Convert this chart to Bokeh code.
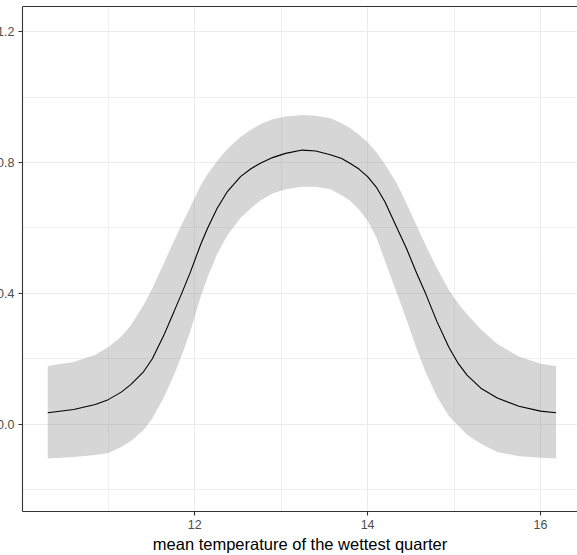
from bokeh.plotting import figure
from bokeh.models import FixedTicker, LinearAxis, PrintfTickFormatter, Range1d
from bokeh.embed import file_html
from bokeh.resources import INLINE

# ---- data ----
temp = [10.30, 10.60, 10.85, 11.00, 11.15, 11.26, 11.41, 11.51, 11.64, 11.76,
        11.85, 11.95, 12.07, 12.15, 12.26, 12.38, 12.53, 12.65, 12.76, 12.90,
        13.05, 13.245, 13.40, 13.57, 13.70, 13.80, 13.90, 14.00, 14.10, 14.20,
        14.34, 14.45, 14.57, 14.67, 14.80, 14.94, 15.05, 15.15, 15.31, 15.50,
        15.75, 16.00, 16.18]
fit = [0.035, 0.045, 0.060, 0.075, 0.098, 0.121, 0.161, 0.200, 0.270, 0.344,
       0.400, 0.465, 0.550, 0.600, 0.660, 0.712, 0.757, 0.781, 0.798, 0.815,
       0.828, 0.838, 0.835, 0.824, 0.812, 0.797, 0.780, 0.757, 0.725, 0.680,
       0.600, 0.537, 0.460, 0.400, 0.315, 0.235, 0.185, 0.150, 0.110, 0.080,
       0.055, 0.040, 0.035]
upper = [0.178, 0.190, 0.212, 0.235, 0.268, 0.302, 0.365, 0.415, 0.490, 0.560,
         0.610, 0.665, 0.730, 0.765, 0.805, 0.842, 0.878, 0.900, 0.917, 0.932,
         0.941, 0.945, 0.943, 0.935, 0.920, 0.905, 0.885, 0.862, 0.832, 0.795,
         0.735, 0.675, 0.605, 0.548, 0.478, 0.410, 0.368, 0.336, 0.290, 0.245,
         0.207, 0.185, 0.178]
lower = [-0.105, -0.100, -0.094, -0.088, -0.070, -0.052, -0.018, 0.018, 0.080, 0.150,
         0.210, 0.285, 0.390, 0.450, 0.520, 0.578, 0.630, 0.660, 0.684, 0.705,
         0.718, 0.726, 0.726, 0.718, 0.700, 0.682, 0.656, 0.622, 0.572, 0.500,
         0.400, 0.320, 0.228, 0.160, 0.085, 0.025, -0.005, -0.032, -0.060, -0.085,
         -0.098, -0.103, -0.105]

x_major = [12, 14, 16]
x_minor = [11, 13, 15]
y_major = [0.0, 0.4, 0.8, 1.2]
y_minor = [-0.2, 0.2, 0.6, 1.0]
x_title = "mean temperature of the wettest quarter"

FONT = "Liberation Sans"
BORDER = "#333333"
TICKLAB = "#4D4D4D"
GRID = "#EBEBEB"

p = figure(width=587, height=549, output_backend="svg", toolbar_location=None,
           x_range=Range1d(10.008, 16.428), y_range=Range1d(-0.267, 1.277),
           min_border_left=32, min_border_right=0, min_border_top=0, min_border_bottom=0,
           margin=(6, 0, 0, -10))
p.outline_line_color = None
p.background_fill_color = "white"

p.varea(x=temp, y1=lower, y2=upper, fill_color="#999999", fill_alpha=0.4)
p.line(x=temp, y=fit, line_color="black", line_width=1.1)

# axes
xa = p.xaxis[0]
xa.ticker = FixedTicker(ticks=x_major, minor_ticks=x_minor)
ya = p.yaxis[0]
ya.ticker = FixedTicker(ticks=y_major, minor_ticks=y_minor)
ya.formatter = PrintfTickFormatter(format="%.1f")
for ax in (xa, ya):
    ax.axis_line_color = BORDER
    ax.axis_line_width = 1.1
    ax.major_tick_line_color = BORDER
    ax.major_tick_line_width = 1.1
    ax.major_tick_in = 0
    ax.major_tick_out = 4
    ax.minor_tick_line_color = None
    ax.major_label_text_font = FONT
    ax.major_label_text_font_size = "12.5px"
    ax.major_label_text_color = TICKLAB
xa.major_label_standoff = 4
ya.major_label_standoff = 4
xa.axis_label = x_title
xa.axis_label_text_font = FONT
xa.axis_label_text_font_size = "16.5px"
xa.axis_label_text_font_style = "normal"
xa.axis_label_text_color = "black"
xa.axis_label_standoff = 3

top = LinearAxis(ticker=FixedTicker(ticks=[]), axis_line_color=BORDER, axis_line_width=1.1,
                 major_tick_line_color=None, minor_tick_line_color=None,
                 major_label_text_font_size="0px")
p.add_layout(top, "above")

# grid
for g in (p.xgrid[0], p.ygrid[0]):
    g.grid_line_color = GRID
    g.grid_line_width = 1.1
    g.minor_grid_line_color = GRID
    g.minor_grid_line_width = 0.8
p.xgrid[0].ticker = xa.ticker
p.ygrid[0].ticker = ya.ticker

open("out.html", "w").write(file_html(p, INLINE))
